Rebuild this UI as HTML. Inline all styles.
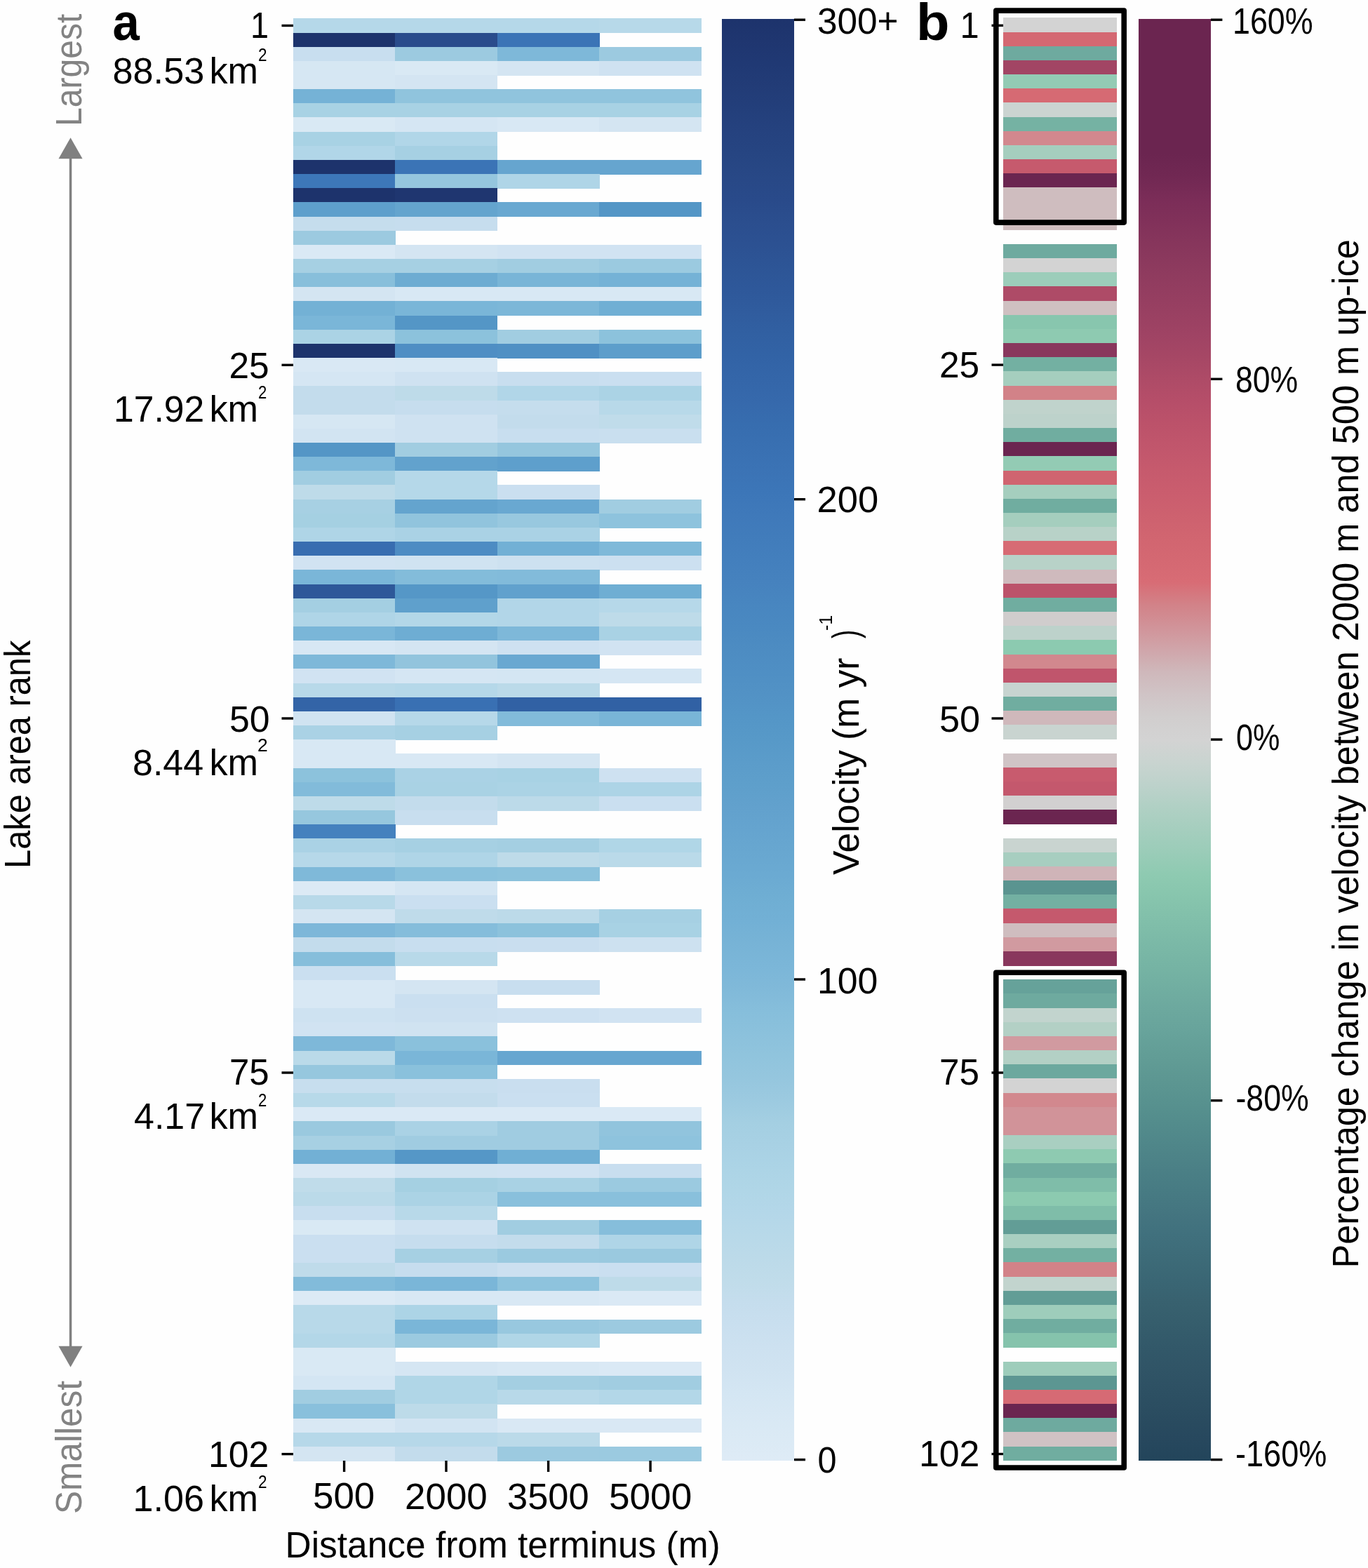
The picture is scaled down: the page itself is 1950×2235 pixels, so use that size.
<!DOCTYPE html><html><head><meta charset="utf-8"><title>Lake area rank heatmap</title><style>html,body{margin:0;padding:0;background:#fff}svg{display:block}text{font-family:"Liberation Sans",Arial,sans-serif}</style></head><body>
<svg width="1950" height="2235" viewBox="0 0 1950 2235">
<rect width="1950" height="2235" fill="#fefefe"/>
<defs><linearGradient id="ga" x1="0" y1="1" x2="0" y2="0"><stop offset="0.0000" stop-color="#deebf6"/><stop offset="0.0156" stop-color="#dbeaf5"/><stop offset="0.0312" stop-color="#d8e8f4"/><stop offset="0.0469" stop-color="#d4e6f3"/><stop offset="0.0625" stop-color="#d0e3f1"/><stop offset="0.0781" stop-color="#cde1f0"/><stop offset="0.0938" stop-color="#c9dfef"/><stop offset="0.1094" stop-color="#c5dded"/><stop offset="0.1250" stop-color="#c0dcea"/><stop offset="0.1406" stop-color="#bcdae9"/><stop offset="0.1562" stop-color="#b8d9e9"/><stop offset="0.1719" stop-color="#b4d7e9"/><stop offset="0.1875" stop-color="#b0d6e7"/><stop offset="0.2031" stop-color="#acd4e6"/><stop offset="0.2188" stop-color="#a8d1e4"/><stop offset="0.2344" stop-color="#a4cfe2"/><stop offset="0.2500" stop-color="#9ccae0"/><stop offset="0.2656" stop-color="#95c6de"/><stop offset="0.2812" stop-color="#90c4dd"/><stop offset="0.2969" stop-color="#8bc1dc"/><stop offset="0.3125" stop-color="#86bedb"/><stop offset="0.3281" stop-color="#80b9d9"/><stop offset="0.3438" stop-color="#7bb6d8"/><stop offset="0.3594" stop-color="#77b3d6"/><stop offset="0.3750" stop-color="#72b0d5"/><stop offset="0.3906" stop-color="#6faed3"/><stop offset="0.4062" stop-color="#6baad2"/><stop offset="0.4219" stop-color="#68a7d0"/><stop offset="0.4375" stop-color="#65a4cf"/><stop offset="0.4531" stop-color="#62a1cd"/><stop offset="0.4688" stop-color="#5e9fcb"/><stop offset="0.4844" stop-color="#5b9cca"/><stop offset="0.5000" stop-color="#5799c8"/><stop offset="0.5156" stop-color="#5496c7"/><stop offset="0.5312" stop-color="#5292c5"/><stop offset="0.5469" stop-color="#4f8fc4"/><stop offset="0.5625" stop-color="#4d8cc2"/><stop offset="0.5781" stop-color="#4a89c1"/><stop offset="0.5938" stop-color="#4886c0"/><stop offset="0.6094" stop-color="#4682be"/><stop offset="0.6250" stop-color="#437fbd"/><stop offset="0.6406" stop-color="#417cbb"/><stop offset="0.6562" stop-color="#3f79ba"/><stop offset="0.6719" stop-color="#3c76b8"/><stop offset="0.6875" stop-color="#3b73b5"/><stop offset="0.7031" stop-color="#3970b2"/><stop offset="0.7188" stop-color="#376daf"/><stop offset="0.7344" stop-color="#3669ac"/><stop offset="0.7500" stop-color="#3466a9"/><stop offset="0.7656" stop-color="#3263a6"/><stop offset="0.7812" stop-color="#3160a2"/><stop offset="0.7969" stop-color="#305c9e"/><stop offset="0.8125" stop-color="#2e589a"/><stop offset="0.8281" stop-color="#2d5596"/><stop offset="0.8438" stop-color="#2c5192"/><stop offset="0.8594" stop-color="#2b4e8e"/><stop offset="0.8750" stop-color="#294a8a"/><stop offset="0.8906" stop-color="#284886"/><stop offset="0.9062" stop-color="#264582"/><stop offset="0.9219" stop-color="#25427f"/><stop offset="0.9375" stop-color="#233f7b"/><stop offset="0.9531" stop-color="#223c77"/><stop offset="0.9688" stop-color="#203974"/><stop offset="0.9844" stop-color="#1f3670"/><stop offset="1.0000" stop-color="#1d336c"/></linearGradient><linearGradient id="gb" x1="0" y1="1" x2="0" y2="0"><stop offset="0.0000" stop-color="#23455b"/><stop offset="0.0156" stop-color="#27485e"/><stop offset="0.0312" stop-color="#2a4c60"/><stop offset="0.0469" stop-color="#2d5063"/><stop offset="0.0625" stop-color="#305466"/><stop offset="0.0781" stop-color="#325869"/><stop offset="0.0938" stop-color="#355d6c"/><stop offset="0.1094" stop-color="#38616f"/><stop offset="0.1250" stop-color="#3a6674"/><stop offset="0.1406" stop-color="#3d6b78"/><stop offset="0.1562" stop-color="#40707d"/><stop offset="0.1719" stop-color="#447580"/><stop offset="0.1875" stop-color="#477b83"/><stop offset="0.2031" stop-color="#4b8086"/><stop offset="0.2188" stop-color="#4f8689"/><stop offset="0.2344" stop-color="#538c8c"/><stop offset="0.2500" stop-color="#58928f"/><stop offset="0.2656" stop-color="#5d9792"/><stop offset="0.2812" stop-color="#629d96"/><stop offset="0.2969" stop-color="#67a39b"/><stop offset="0.3125" stop-color="#6ca89e"/><stop offset="0.3281" stop-color="#71aea1"/><stop offset="0.3438" stop-color="#76b4a4"/><stop offset="0.3594" stop-color="#7bb9a7"/><stop offset="0.3750" stop-color="#81bfaa"/><stop offset="0.3906" stop-color="#87c5ad"/><stop offset="0.4062" stop-color="#8ecab1"/><stop offset="0.4219" stop-color="#9accb8"/><stop offset="0.4375" stop-color="#a5cebe"/><stop offset="0.4531" stop-color="#b0d0c4"/><stop offset="0.4688" stop-color="#bdd2cb"/><stop offset="0.4844" stop-color="#c9d4d0"/><stop offset="0.5000" stop-color="#d3d3d3"/><stop offset="0.5156" stop-color="#d1cece"/><stop offset="0.5312" stop-color="#d0c4c6"/><stop offset="0.5469" stop-color="#cfb8bb"/><stop offset="0.5625" stop-color="#d0a5aa"/><stop offset="0.5781" stop-color="#d19399"/><stop offset="0.5938" stop-color="#d28288"/><stop offset="0.6094" stop-color="#d86c75"/><stop offset="0.6250" stop-color="#d46872"/><stop offset="0.6406" stop-color="#d16570"/><stop offset="0.6562" stop-color="#cd616f"/><stop offset="0.6719" stop-color="#ca5d6e"/><stop offset="0.6875" stop-color="#c65a6d"/><stop offset="0.7031" stop-color="#c1566c"/><stop offset="0.7188" stop-color="#bc526a"/><stop offset="0.7344" stop-color="#b64e69"/><stop offset="0.7500" stop-color="#ae4b67"/><stop offset="0.7656" stop-color="#a64765"/><stop offset="0.7812" stop-color="#9f4364"/><stop offset="0.7969" stop-color="#994062"/><stop offset="0.8125" stop-color="#933d60"/><stop offset="0.8281" stop-color="#8d3a5e"/><stop offset="0.8438" stop-color="#87365c"/><stop offset="0.8594" stop-color="#81315a"/><stop offset="0.8750" stop-color="#7b2d58"/><stop offset="0.8906" stop-color="#712853"/><stop offset="0.9062" stop-color="#6b2550"/><stop offset="0.9219" stop-color="#6b2550"/><stop offset="0.9375" stop-color="#6b2550"/><stop offset="0.9531" stop-color="#6b2550"/><stop offset="0.9688" stop-color="#6b2550"/><stop offset="0.9844" stop-color="#6b2550"/><stop offset="1.0000" stop-color="#6b2550"/></linearGradient></defs>
<g shape-rendering="crispEdges">
<rect x="417.7" y="26.35" width="146.1" height="20.75" fill="#b5d8e9"/>
<rect x="563.2" y="26.35" width="146.1" height="20.75" fill="#b5d8e9"/>
<rect x="708.8" y="26.35" width="146.1" height="20.75" fill="#b5d8e9"/>
<rect x="854.3" y="26.35" width="146.1" height="20.75" fill="#b7d9e9"/>
<rect x="417.7" y="46.50" width="146.1" height="20.75" fill="#1d336c"/>
<rect x="563.2" y="46.50" width="146.1" height="20.75" fill="#2a4c8c"/>
<rect x="708.8" y="46.50" width="146.1" height="20.75" fill="#3b74b6"/>
<rect x="417.7" y="66.66" width="146.1" height="20.75" fill="#c8deef"/>
<rect x="563.2" y="66.66" width="146.1" height="20.75" fill="#9ccae0"/>
<rect x="708.8" y="66.66" width="146.1" height="20.75" fill="#7eb8d9"/>
<rect x="854.3" y="66.66" width="146.1" height="20.75" fill="#9ccae0"/>
<rect x="417.7" y="86.81" width="146.1" height="20.75" fill="#d6e7f3"/>
<rect x="563.2" y="86.81" width="146.1" height="20.75" fill="#d9e9f4"/>
<rect x="708.8" y="86.81" width="146.1" height="20.75" fill="#d4e5f2"/>
<rect x="854.3" y="86.81" width="146.1" height="20.75" fill="#cfe2f1"/>
<rect x="417.7" y="106.97" width="146.1" height="20.75" fill="#d6e7f3"/>
<rect x="563.2" y="106.97" width="146.1" height="20.75" fill="#d4e5f2"/>
<rect x="417.7" y="127.12" width="146.1" height="20.75" fill="#75b2d6"/>
<rect x="563.2" y="127.12" width="146.1" height="20.75" fill="#90c4dd"/>
<rect x="708.8" y="127.12" width="146.1" height="20.75" fill="#90c4dd"/>
<rect x="854.3" y="127.12" width="146.1" height="20.75" fill="#90c4dd"/>
<rect x="417.7" y="147.28" width="146.1" height="20.75" fill="#a8d2e4"/>
<rect x="563.2" y="147.28" width="146.1" height="20.75" fill="#a8d2e4"/>
<rect x="708.8" y="147.28" width="146.1" height="20.75" fill="#a8d2e4"/>
<rect x="854.3" y="147.28" width="146.1" height="20.75" fill="#a8d2e4"/>
<rect x="417.7" y="167.43" width="146.1" height="20.75" fill="#d9e9f4"/>
<rect x="563.2" y="167.43" width="146.1" height="20.75" fill="#d5e6f3"/>
<rect x="708.8" y="167.43" width="146.1" height="20.75" fill="#d8e8f4"/>
<rect x="854.3" y="167.43" width="146.1" height="20.75" fill="#d4e5f2"/>
<rect x="417.7" y="187.59" width="146.1" height="20.75" fill="#a8d2e4"/>
<rect x="563.2" y="187.59" width="146.1" height="20.75" fill="#b1d6e8"/>
<rect x="417.7" y="207.74" width="146.1" height="20.75" fill="#b1d6e8"/>
<rect x="563.2" y="207.74" width="146.1" height="20.75" fill="#a6d0e3"/>
<rect x="417.7" y="227.89" width="146.1" height="20.75" fill="#1d336c"/>
<rect x="563.2" y="227.89" width="146.1" height="20.75" fill="#3b74b6"/>
<rect x="708.8" y="227.89" width="146.1" height="20.75" fill="#66a5cf"/>
<rect x="854.3" y="227.89" width="146.1" height="20.75" fill="#66a5cf"/>
<rect x="417.7" y="248.05" width="146.1" height="20.75" fill="#3d77b9"/>
<rect x="563.2" y="248.05" width="146.1" height="20.75" fill="#95c6de"/>
<rect x="708.8" y="248.05" width="146.1" height="20.75" fill="#afd5e7"/>
<rect x="417.7" y="268.20" width="146.1" height="20.75" fill="#1d336c"/>
<rect x="563.2" y="268.20" width="146.1" height="20.75" fill="#1f3670"/>
<rect x="417.7" y="288.36" width="146.1" height="20.75" fill="#5e9fcc"/>
<rect x="563.2" y="288.36" width="146.1" height="20.75" fill="#64a4ce"/>
<rect x="708.8" y="288.36" width="146.1" height="20.75" fill="#69a8d1"/>
<rect x="854.3" y="288.36" width="146.1" height="20.75" fill="#5496c6"/>
<rect x="417.7" y="308.51" width="146.1" height="20.75" fill="#c5dded"/>
<rect x="563.2" y="308.51" width="146.1" height="20.75" fill="#c6ddee"/>
<rect x="417.7" y="328.67" width="146.1" height="20.75" fill="#9ccae0"/>
<rect x="417.7" y="348.82" width="146.1" height="20.75" fill="#dae9f5"/>
<rect x="563.2" y="348.82" width="146.1" height="20.75" fill="#d4e5f2"/>
<rect x="708.8" y="348.82" width="146.1" height="20.75" fill="#d1e3f2"/>
<rect x="854.3" y="348.82" width="146.1" height="20.75" fill="#d1e3f2"/>
<rect x="417.7" y="368.98" width="146.1" height="20.75" fill="#a6d0e3"/>
<rect x="563.2" y="368.98" width="146.1" height="20.75" fill="#a6d0e3"/>
<rect x="708.8" y="368.98" width="146.1" height="20.75" fill="#a1cde1"/>
<rect x="854.3" y="368.98" width="146.1" height="20.75" fill="#9bcae0"/>
<rect x="417.7" y="389.13" width="146.1" height="20.75" fill="#88bfdb"/>
<rect x="563.2" y="389.13" width="146.1" height="20.75" fill="#6dacd2"/>
<rect x="708.8" y="389.13" width="146.1" height="20.75" fill="#79b5d7"/>
<rect x="854.3" y="389.13" width="146.1" height="20.75" fill="#75b2d6"/>
<rect x="417.7" y="409.28" width="146.1" height="20.75" fill="#d4e5f2"/>
<rect x="563.2" y="409.28" width="146.1" height="20.75" fill="#d8e8f4"/>
<rect x="708.8" y="409.28" width="146.1" height="20.75" fill="#d8e8f4"/>
<rect x="854.3" y="409.28" width="146.1" height="20.75" fill="#d8e8f4"/>
<rect x="417.7" y="429.44" width="146.1" height="20.75" fill="#73b1d5"/>
<rect x="563.2" y="429.44" width="146.1" height="20.75" fill="#7ab6d8"/>
<rect x="708.8" y="429.44" width="146.1" height="20.75" fill="#7cb7d8"/>
<rect x="854.3" y="429.44" width="146.1" height="20.75" fill="#70afd4"/>
<rect x="417.7" y="449.59" width="146.1" height="20.75" fill="#7ab6d8"/>
<rect x="563.2" y="449.59" width="146.1" height="20.75" fill="#5496c6"/>
<rect x="417.7" y="469.75" width="146.1" height="20.75" fill="#abd3e5"/>
<rect x="563.2" y="469.75" width="146.1" height="20.75" fill="#8cc2dc"/>
<rect x="708.8" y="469.75" width="146.1" height="20.75" fill="#a1cde1"/>
<rect x="854.3" y="469.75" width="146.1" height="20.75" fill="#8cc2dc"/>
<rect x="417.7" y="489.90" width="146.1" height="20.75" fill="#1d336c"/>
<rect x="563.2" y="489.90" width="146.1" height="20.75" fill="#4f8ec4"/>
<rect x="708.8" y="489.90" width="146.1" height="20.75" fill="#5090c4"/>
<rect x="854.3" y="489.90" width="146.1" height="20.75" fill="#5d9ecb"/>
<rect x="417.7" y="510.06" width="146.1" height="20.75" fill="#d9e8f4"/>
<rect x="563.2" y="510.06" width="146.1" height="20.75" fill="#d8e8f4"/>
<rect x="417.7" y="530.21" width="146.1" height="20.75" fill="#d5e6f3"/>
<rect x="563.2" y="530.21" width="146.1" height="20.75" fill="#cfe2f1"/>
<rect x="708.8" y="530.21" width="146.1" height="20.75" fill="#c8deef"/>
<rect x="854.3" y="530.21" width="146.1" height="20.75" fill="#cadff0"/>
<rect x="417.7" y="550.36" width="146.1" height="20.75" fill="#c3dcec"/>
<rect x="563.2" y="550.36" width="146.1" height="20.75" fill="#bedbe9"/>
<rect x="708.8" y="550.36" width="146.1" height="20.75" fill="#b1d6e8"/>
<rect x="854.3" y="550.36" width="146.1" height="20.75" fill="#abd3e5"/>
<rect x="417.7" y="570.52" width="146.1" height="20.75" fill="#c3dcec"/>
<rect x="563.2" y="570.52" width="146.1" height="20.75" fill="#c6ddee"/>
<rect x="708.8" y="570.52" width="146.1" height="20.75" fill="#c5dded"/>
<rect x="854.3" y="570.52" width="146.1" height="20.75" fill="#b8d9e9"/>
<rect x="417.7" y="590.67" width="146.1" height="20.75" fill="#d6e7f3"/>
<rect x="563.2" y="590.67" width="146.1" height="20.75" fill="#cfe2f1"/>
<rect x="708.8" y="590.67" width="146.1" height="20.75" fill="#c3dcec"/>
<rect x="854.3" y="590.67" width="146.1" height="20.75" fill="#c0dcea"/>
<rect x="417.7" y="610.83" width="146.1" height="20.75" fill="#d2e4f2"/>
<rect x="563.2" y="610.83" width="146.1" height="20.75" fill="#cfe2f1"/>
<rect x="708.8" y="610.83" width="146.1" height="20.75" fill="#c8deef"/>
<rect x="854.3" y="610.83" width="146.1" height="20.75" fill="#c9dfef"/>
<rect x="417.7" y="630.98" width="146.1" height="20.75" fill="#5496c6"/>
<rect x="563.2" y="630.98" width="146.1" height="20.75" fill="#a1cde1"/>
<rect x="708.8" y="630.98" width="146.1" height="20.75" fill="#95c6de"/>
<rect x="417.7" y="651.14" width="146.1" height="20.75" fill="#7eb8d9"/>
<rect x="563.2" y="651.14" width="146.1" height="20.75" fill="#62a2cd"/>
<rect x="708.8" y="651.14" width="146.1" height="20.75" fill="#5e9fcc"/>
<rect x="417.7" y="671.29" width="146.1" height="20.75" fill="#a1cde1"/>
<rect x="563.2" y="671.29" width="146.1" height="20.75" fill="#b5d8e9"/>
<rect x="417.7" y="691.45" width="146.1" height="20.75" fill="#bedbe9"/>
<rect x="563.2" y="691.45" width="146.1" height="20.75" fill="#b5d8e9"/>
<rect x="708.8" y="691.45" width="146.1" height="20.75" fill="#cadff0"/>
<rect x="417.7" y="711.60" width="146.1" height="20.75" fill="#a7d0e3"/>
<rect x="563.2" y="711.60" width="146.1" height="20.75" fill="#64a4ce"/>
<rect x="708.8" y="711.60" width="146.1" height="20.75" fill="#69a8d1"/>
<rect x="854.3" y="711.60" width="146.1" height="20.75" fill="#a1cde1"/>
<rect x="417.7" y="731.75" width="146.1" height="20.75" fill="#a5d0e2"/>
<rect x="563.2" y="731.75" width="146.1" height="20.75" fill="#91c4dd"/>
<rect x="708.8" y="731.75" width="146.1" height="20.75" fill="#98c8df"/>
<rect x="854.3" y="731.75" width="146.1" height="20.75" fill="#8ec3dd"/>
<rect x="417.7" y="751.91" width="146.1" height="20.75" fill="#afd5e7"/>
<rect x="563.2" y="751.91" width="146.1" height="20.75" fill="#aad2e5"/>
<rect x="708.8" y="751.91" width="146.1" height="20.75" fill="#aad2e5"/>
<rect x="417.7" y="772.06" width="146.1" height="20.75" fill="#386db0"/>
<rect x="563.2" y="772.06" width="146.1" height="20.75" fill="#4d8cc3"/>
<rect x="708.8" y="772.06" width="146.1" height="20.75" fill="#72b0d5"/>
<rect x="854.3" y="772.06" width="146.1" height="20.75" fill="#7fb9d9"/>
<rect x="417.7" y="792.22" width="146.1" height="20.75" fill="#d1e3f2"/>
<rect x="563.2" y="792.22" width="146.1" height="20.75" fill="#d0e3f1"/>
<rect x="708.8" y="792.22" width="146.1" height="20.75" fill="#cde1f0"/>
<rect x="854.3" y="792.22" width="146.1" height="20.75" fill="#cce0f0"/>
<rect x="417.7" y="812.37" width="146.1" height="20.75" fill="#7ab6d8"/>
<rect x="563.2" y="812.37" width="146.1" height="20.75" fill="#83bcda"/>
<rect x="708.8" y="812.37" width="146.1" height="20.75" fill="#82bbda"/>
<rect x="417.7" y="832.53" width="146.1" height="20.75" fill="#2e5899"/>
<rect x="563.2" y="832.53" width="146.1" height="20.75" fill="#5597c7"/>
<rect x="708.8" y="832.53" width="146.1" height="20.75" fill="#61a1cd"/>
<rect x="854.3" y="832.53" width="146.1" height="20.75" fill="#6faed3"/>
<rect x="417.7" y="852.68" width="146.1" height="20.75" fill="#a4cfe2"/>
<rect x="563.2" y="852.68" width="146.1" height="20.75" fill="#5fa0cc"/>
<rect x="708.8" y="852.68" width="146.1" height="20.75" fill="#b2d6e8"/>
<rect x="854.3" y="852.68" width="146.1" height="20.75" fill="#b6d8e9"/>
<rect x="417.7" y="872.84" width="146.1" height="20.75" fill="#afd5e7"/>
<rect x="563.2" y="872.84" width="146.1" height="20.75" fill="#b3d7e8"/>
<rect x="708.8" y="872.84" width="146.1" height="20.75" fill="#b2d6e8"/>
<rect x="854.3" y="872.84" width="146.1" height="20.75" fill="#bedbe9"/>
<rect x="417.7" y="892.99" width="146.1" height="20.75" fill="#7ab6d8"/>
<rect x="563.2" y="892.99" width="146.1" height="20.75" fill="#6eadd3"/>
<rect x="708.8" y="892.99" width="146.1" height="20.75" fill="#7eb8d9"/>
<rect x="854.3" y="892.99" width="146.1" height="20.75" fill="#a9d2e4"/>
<rect x="417.7" y="913.14" width="146.1" height="20.75" fill="#d7e7f4"/>
<rect x="563.2" y="913.14" width="146.1" height="20.75" fill="#d4e5f2"/>
<rect x="708.8" y="913.14" width="146.1" height="20.75" fill="#cee1f1"/>
<rect x="854.3" y="913.14" width="146.1" height="20.75" fill="#d1e3f2"/>
<rect x="417.7" y="933.30" width="146.1" height="20.75" fill="#7eb8d9"/>
<rect x="563.2" y="933.30" width="146.1" height="20.75" fill="#92c4dd"/>
<rect x="708.8" y="933.30" width="146.1" height="20.75" fill="#69a8d1"/>
<rect x="417.7" y="953.45" width="146.1" height="20.75" fill="#d1e3f2"/>
<rect x="563.2" y="953.45" width="146.1" height="20.75" fill="#d5e6f3"/>
<rect x="708.8" y="953.45" width="146.1" height="20.75" fill="#d4e6f3"/>
<rect x="854.3" y="953.45" width="146.1" height="20.75" fill="#d5e6f3"/>
<rect x="417.7" y="973.61" width="146.1" height="20.75" fill="#b8d9e9"/>
<rect x="563.2" y="973.61" width="146.1" height="20.75" fill="#b5d8e9"/>
<rect x="708.8" y="973.61" width="146.1" height="20.75" fill="#bbdae9"/>
<rect x="417.7" y="993.76" width="146.1" height="20.75" fill="#3364a7"/>
<rect x="563.2" y="993.76" width="146.1" height="20.75" fill="#3970b3"/>
<rect x="708.8" y="993.76" width="146.1" height="20.75" fill="#3161a4"/>
<rect x="854.3" y="993.76" width="146.1" height="20.75" fill="#3161a4"/>
<rect x="417.7" y="1013.92" width="146.1" height="20.75" fill="#d0e3f1"/>
<rect x="563.2" y="1013.92" width="146.1" height="20.75" fill="#b6d8e9"/>
<rect x="708.8" y="1013.92" width="146.1" height="20.75" fill="#82bbda"/>
<rect x="854.3" y="1013.92" width="146.1" height="20.75" fill="#79b5d7"/>
<rect x="417.7" y="1034.07" width="146.1" height="20.75" fill="#aad2e5"/>
<rect x="563.2" y="1034.07" width="146.1" height="20.75" fill="#a6d0e3"/>
<rect x="417.7" y="1054.22" width="146.1" height="20.75" fill="#d8e8f4"/>
<rect x="417.7" y="1074.38" width="146.1" height="20.75" fill="#d8e8f4"/>
<rect x="563.2" y="1074.38" width="146.1" height="20.75" fill="#d8e8f4"/>
<rect x="708.8" y="1074.38" width="146.1" height="20.75" fill="#d4e5f2"/>
<rect x="417.7" y="1094.53" width="146.1" height="20.75" fill="#8cc2dc"/>
<rect x="563.2" y="1094.53" width="146.1" height="20.75" fill="#aad2e5"/>
<rect x="708.8" y="1094.53" width="146.1" height="20.75" fill="#a8d2e4"/>
<rect x="854.3" y="1094.53" width="146.1" height="20.75" fill="#cee1f1"/>
<rect x="417.7" y="1114.69" width="146.1" height="20.75" fill="#82bbda"/>
<rect x="563.2" y="1114.69" width="146.1" height="20.75" fill="#a9d2e4"/>
<rect x="708.8" y="1114.69" width="146.1" height="20.75" fill="#abd3e5"/>
<rect x="854.3" y="1114.69" width="146.1" height="20.75" fill="#add4e6"/>
<rect x="417.7" y="1134.84" width="146.1" height="20.75" fill="#bedbe9"/>
<rect x="563.2" y="1134.84" width="146.1" height="20.75" fill="#c3dcec"/>
<rect x="708.8" y="1134.84" width="146.1" height="20.75" fill="#bcdae9"/>
<rect x="854.3" y="1134.84" width="146.1" height="20.75" fill="#cadff0"/>
<rect x="417.7" y="1155.00" width="146.1" height="20.75" fill="#96c7de"/>
<rect x="563.2" y="1155.00" width="146.1" height="20.75" fill="#c8deef"/>
<rect x="417.7" y="1175.15" width="146.1" height="20.75" fill="#4481be"/>
<rect x="417.7" y="1195.31" width="146.1" height="20.75" fill="#aad2e5"/>
<rect x="563.2" y="1195.31" width="146.1" height="20.75" fill="#a6d0e3"/>
<rect x="708.8" y="1195.31" width="146.1" height="20.75" fill="#a4cfe2"/>
<rect x="854.3" y="1195.31" width="146.1" height="20.75" fill="#b0d6e7"/>
<rect x="417.7" y="1215.46" width="146.1" height="20.75" fill="#b6d8e9"/>
<rect x="563.2" y="1215.46" width="146.1" height="20.75" fill="#afd5e7"/>
<rect x="708.8" y="1215.46" width="146.1" height="20.75" fill="#bedbe9"/>
<rect x="854.3" y="1215.46" width="146.1" height="20.75" fill="#badae9"/>
<rect x="417.7" y="1235.61" width="146.1" height="20.75" fill="#7fb9d9"/>
<rect x="563.2" y="1235.61" width="146.1" height="20.75" fill="#8ac1dc"/>
<rect x="708.8" y="1235.61" width="146.1" height="20.75" fill="#8cc2dc"/>
<rect x="417.7" y="1255.77" width="146.1" height="20.75" fill="#dceaf5"/>
<rect x="563.2" y="1255.77" width="146.1" height="20.75" fill="#d5e6f3"/>
<rect x="417.7" y="1275.92" width="146.1" height="20.75" fill="#b8d9e9"/>
<rect x="563.2" y="1275.92" width="146.1" height="20.75" fill="#cadff0"/>
<rect x="417.7" y="1296.08" width="146.1" height="20.75" fill="#d4e5f2"/>
<rect x="563.2" y="1296.08" width="146.1" height="20.75" fill="#bfdbea"/>
<rect x="708.8" y="1296.08" width="146.1" height="20.75" fill="#bcdae9"/>
<rect x="854.3" y="1296.08" width="146.1" height="20.75" fill="#a6d0e3"/>
<rect x="417.7" y="1316.23" width="146.1" height="20.75" fill="#7db7d9"/>
<rect x="563.2" y="1316.23" width="146.1" height="20.75" fill="#85bddb"/>
<rect x="708.8" y="1316.23" width="146.1" height="20.75" fill="#8cc2dc"/>
<rect x="854.3" y="1316.23" width="146.1" height="20.75" fill="#a8d2e4"/>
<rect x="417.7" y="1336.39" width="146.1" height="20.75" fill="#c3dcec"/>
<rect x="563.2" y="1336.39" width="146.1" height="20.75" fill="#c8deef"/>
<rect x="708.8" y="1336.39" width="146.1" height="20.75" fill="#c9deef"/>
<rect x="854.3" y="1336.39" width="146.1" height="20.75" fill="#cde1f0"/>
<rect x="417.7" y="1356.54" width="146.1" height="20.75" fill="#86bedb"/>
<rect x="563.2" y="1356.54" width="146.1" height="20.75" fill="#b8d9e9"/>
<rect x="417.7" y="1376.70" width="146.1" height="20.75" fill="#cadff0"/>
<rect x="417.7" y="1396.85" width="146.1" height="20.75" fill="#d8e8f4"/>
<rect x="563.2" y="1396.85" width="146.1" height="20.75" fill="#d4e5f2"/>
<rect x="708.8" y="1396.85" width="146.1" height="20.75" fill="#c8deef"/>
<rect x="417.7" y="1417.00" width="146.1" height="20.75" fill="#d8e8f4"/>
<rect x="563.2" y="1417.00" width="146.1" height="20.75" fill="#cadff0"/>
<rect x="417.7" y="1437.16" width="146.1" height="20.75" fill="#cee2f1"/>
<rect x="563.2" y="1437.16" width="146.1" height="20.75" fill="#cce0f0"/>
<rect x="708.8" y="1437.16" width="146.1" height="20.75" fill="#cee1f1"/>
<rect x="854.3" y="1437.16" width="146.1" height="20.75" fill="#d1e3f2"/>
<rect x="417.7" y="1457.31" width="146.1" height="20.75" fill="#d1e3f2"/>
<rect x="563.2" y="1457.31" width="146.1" height="20.75" fill="#d0e3f1"/>
<rect x="417.7" y="1477.47" width="146.1" height="20.75" fill="#7eb8d9"/>
<rect x="563.2" y="1477.47" width="146.1" height="20.75" fill="#8ac1dc"/>
<rect x="417.7" y="1497.62" width="146.1" height="20.75" fill="#badae9"/>
<rect x="563.2" y="1497.62" width="146.1" height="20.75" fill="#7ab6d8"/>
<rect x="708.8" y="1497.62" width="146.1" height="20.75" fill="#67a6d0"/>
<rect x="854.3" y="1497.62" width="146.1" height="20.75" fill="#67a6d0"/>
<rect x="417.7" y="1517.78" width="146.1" height="20.75" fill="#96c7de"/>
<rect x="563.2" y="1517.78" width="146.1" height="20.75" fill="#8ac1dc"/>
<rect x="417.7" y="1537.93" width="146.1" height="20.75" fill="#c7deee"/>
<rect x="563.2" y="1537.93" width="146.1" height="20.75" fill="#c7deee"/>
<rect x="708.8" y="1537.93" width="146.1" height="20.75" fill="#c9deef"/>
<rect x="417.7" y="1558.09" width="146.1" height="20.75" fill="#b7d9e9"/>
<rect x="563.2" y="1558.09" width="146.1" height="20.75" fill="#c3dcec"/>
<rect x="708.8" y="1558.09" width="146.1" height="20.75" fill="#cadff0"/>
<rect x="417.7" y="1578.24" width="146.1" height="20.75" fill="#dae9f5"/>
<rect x="563.2" y="1578.24" width="146.1" height="20.75" fill="#dae9f5"/>
<rect x="708.8" y="1578.24" width="146.1" height="20.75" fill="#dae9f5"/>
<rect x="854.3" y="1578.24" width="146.1" height="20.75" fill="#dae9f5"/>
<rect x="417.7" y="1598.39" width="146.1" height="20.75" fill="#9ac9df"/>
<rect x="563.2" y="1598.39" width="146.1" height="20.75" fill="#aad2e5"/>
<rect x="708.8" y="1598.39" width="146.1" height="20.75" fill="#a0cce1"/>
<rect x="854.3" y="1598.39" width="146.1" height="20.75" fill="#91c4dd"/>
<rect x="417.7" y="1618.55" width="146.1" height="20.75" fill="#a7d0e3"/>
<rect x="563.2" y="1618.55" width="146.1" height="20.75" fill="#a0cce1"/>
<rect x="708.8" y="1618.55" width="146.1" height="20.75" fill="#a0cce1"/>
<rect x="854.3" y="1618.55" width="146.1" height="20.75" fill="#8ec3dd"/>
<rect x="417.7" y="1638.70" width="146.1" height="20.75" fill="#72b0d5"/>
<rect x="563.2" y="1638.70" width="146.1" height="20.75" fill="#5597c7"/>
<rect x="708.8" y="1638.70" width="146.1" height="20.75" fill="#70afd4"/>
<rect x="417.7" y="1658.86" width="146.1" height="20.75" fill="#d9e8f4"/>
<rect x="563.2" y="1658.86" width="146.1" height="20.75" fill="#d0e3f1"/>
<rect x="708.8" y="1658.86" width="146.1" height="20.75" fill="#d1e3f2"/>
<rect x="854.3" y="1658.86" width="146.1" height="20.75" fill="#c8deef"/>
<rect x="417.7" y="1679.01" width="146.1" height="20.75" fill="#c0dcea"/>
<rect x="563.2" y="1679.01" width="146.1" height="20.75" fill="#a5d0e2"/>
<rect x="708.8" y="1679.01" width="146.1" height="20.75" fill="#a9d2e4"/>
<rect x="854.3" y="1679.01" width="146.1" height="20.75" fill="#9bcae0"/>
<rect x="417.7" y="1699.17" width="146.1" height="20.75" fill="#bbdae9"/>
<rect x="563.2" y="1699.17" width="146.1" height="20.75" fill="#abd3e5"/>
<rect x="708.8" y="1699.17" width="146.1" height="20.75" fill="#89c0dc"/>
<rect x="854.3" y="1699.17" width="146.1" height="20.75" fill="#89c0dc"/>
<rect x="417.7" y="1719.32" width="146.1" height="20.75" fill="#c8deef"/>
<rect x="563.2" y="1719.32" width="146.1" height="20.75" fill="#b8d9e9"/>
<rect x="417.7" y="1739.48" width="146.1" height="20.75" fill="#d9e9f4"/>
<rect x="563.2" y="1739.48" width="146.1" height="20.75" fill="#cfe2f1"/>
<rect x="708.8" y="1739.48" width="146.1" height="20.75" fill="#a1cde1"/>
<rect x="854.3" y="1739.48" width="146.1" height="20.75" fill="#86bedb"/>
<rect x="417.7" y="1759.63" width="146.1" height="20.75" fill="#cadff0"/>
<rect x="563.2" y="1759.63" width="146.1" height="20.75" fill="#c6ddee"/>
<rect x="708.8" y="1759.63" width="146.1" height="20.75" fill="#c3dcec"/>
<rect x="854.3" y="1759.63" width="146.1" height="20.75" fill="#afd5e7"/>
<rect x="417.7" y="1779.78" width="146.1" height="20.75" fill="#cadff0"/>
<rect x="563.2" y="1779.78" width="146.1" height="20.75" fill="#a6d0e3"/>
<rect x="708.8" y="1779.78" width="146.1" height="20.75" fill="#9bcae0"/>
<rect x="854.3" y="1779.78" width="146.1" height="20.75" fill="#9ac9df"/>
<rect x="417.7" y="1799.94" width="146.1" height="20.75" fill="#bfdbea"/>
<rect x="563.2" y="1799.94" width="146.1" height="20.75" fill="#c6ddee"/>
<rect x="708.8" y="1799.94" width="146.1" height="20.75" fill="#cce0f0"/>
<rect x="854.3" y="1799.94" width="146.1" height="20.75" fill="#cadff0"/>
<rect x="417.7" y="1820.09" width="146.1" height="20.75" fill="#82bbda"/>
<rect x="563.2" y="1820.09" width="146.1" height="20.75" fill="#7ab6d8"/>
<rect x="708.8" y="1820.09" width="146.1" height="20.75" fill="#8ec3dd"/>
<rect x="854.3" y="1820.09" width="146.1" height="20.75" fill="#bedbe9"/>
<rect x="417.7" y="1840.25" width="146.1" height="20.75" fill="#dceaf5"/>
<rect x="563.2" y="1840.25" width="146.1" height="20.75" fill="#d8e8f4"/>
<rect x="708.8" y="1840.25" width="146.1" height="20.75" fill="#d8e8f4"/>
<rect x="854.3" y="1840.25" width="146.1" height="20.75" fill="#dae9f5"/>
<rect x="417.7" y="1860.40" width="146.1" height="20.75" fill="#b8d9e9"/>
<rect x="563.2" y="1860.40" width="146.1" height="20.75" fill="#acd4e6"/>
<rect x="417.7" y="1880.56" width="146.1" height="20.75" fill="#b8d9e9"/>
<rect x="563.2" y="1880.56" width="146.1" height="20.75" fill="#7ab6d8"/>
<rect x="708.8" y="1880.56" width="146.1" height="20.75" fill="#98c8df"/>
<rect x="854.3" y="1880.56" width="146.1" height="20.75" fill="#9ccae0"/>
<rect x="417.7" y="1900.71" width="146.1" height="20.75" fill="#b3d7e8"/>
<rect x="563.2" y="1900.71" width="146.1" height="20.75" fill="#9bcae0"/>
<rect x="708.8" y="1900.71" width="146.1" height="20.75" fill="#b0d6e7"/>
<rect x="417.7" y="1920.86" width="146.1" height="20.75" fill="#d9e9f4"/>
<rect x="417.7" y="1941.02" width="146.1" height="20.75" fill="#d9e9f4"/>
<rect x="563.2" y="1941.02" width="146.1" height="20.75" fill="#d5e6f3"/>
<rect x="708.8" y="1941.02" width="146.1" height="20.75" fill="#d8e8f4"/>
<rect x="854.3" y="1941.02" width="146.1" height="20.75" fill="#dae9f5"/>
<rect x="417.7" y="1961.17" width="146.1" height="20.75" fill="#d4e6f3"/>
<rect x="563.2" y="1961.17" width="146.1" height="20.75" fill="#b0d6e7"/>
<rect x="708.8" y="1961.17" width="146.1" height="20.75" fill="#a4cfe2"/>
<rect x="854.3" y="1961.17" width="146.1" height="20.75" fill="#a1cde1"/>
<rect x="417.7" y="1981.33" width="146.1" height="20.75" fill="#a1cde1"/>
<rect x="563.2" y="1981.33" width="146.1" height="20.75" fill="#b0d6e7"/>
<rect x="708.8" y="1981.33" width="146.1" height="20.75" fill="#b8d9e9"/>
<rect x="854.3" y="1981.33" width="146.1" height="20.75" fill="#b3d7e8"/>
<rect x="417.7" y="2001.48" width="146.1" height="20.75" fill="#89c0dc"/>
<rect x="563.2" y="2001.48" width="146.1" height="20.75" fill="#bddbe9"/>
<rect x="417.7" y="2021.64" width="146.1" height="20.75" fill="#d9e8f4"/>
<rect x="563.2" y="2021.64" width="146.1" height="20.75" fill="#d2e4f2"/>
<rect x="708.8" y="2021.64" width="146.1" height="20.75" fill="#d9e8f4"/>
<rect x="854.3" y="2021.64" width="146.1" height="20.75" fill="#d9e8f4"/>
<rect x="417.7" y="2041.79" width="146.1" height="20.75" fill="#b6d8e9"/>
<rect x="563.2" y="2041.79" width="146.1" height="20.75" fill="#b6d8e9"/>
<rect x="708.8" y="2041.79" width="146.1" height="20.75" fill="#bbdae9"/>
<rect x="417.7" y="2061.95" width="146.1" height="20.75" fill="#d4e5f2"/>
<rect x="563.2" y="2061.95" width="146.1" height="20.75" fill="#c3dcec"/>
<rect x="708.8" y="2061.95" width="146.1" height="20.75" fill="#9ccae0"/>
<rect x="854.3" y="2061.95" width="146.1" height="20.75" fill="#9bcae0"/>
</g>
<g shape-rendering="crispEdges">
<rect x="1430.0" y="25.40" width="162.0" height="20.76" fill="#d3d3d3"/>
<rect x="1430.0" y="45.56" width="162.0" height="20.76" fill="#d46872"/>
<rect x="1430.0" y="65.72" width="162.0" height="20.76" fill="#6eaa9f"/>
<rect x="1430.0" y="85.88" width="162.0" height="20.76" fill="#a24564"/>
<rect x="1430.0" y="106.04" width="162.0" height="20.76" fill="#93cbb4"/>
<rect x="1430.0" y="126.20" width="162.0" height="20.76" fill="#d66a73"/>
<rect x="1430.0" y="146.36" width="162.0" height="20.76" fill="#cbd4d1"/>
<rect x="1430.0" y="166.52" width="162.0" height="20.76" fill="#75b2a3"/>
<rect x="1430.0" y="186.68" width="162.0" height="20.76" fill="#d2888e"/>
<rect x="1430.0" y="206.84" width="162.0" height="20.76" fill="#a5cebe"/>
<rect x="1430.0" y="227.00" width="162.0" height="20.76" fill="#c65a6d"/>
<rect x="1430.0" y="247.16" width="162.0" height="20.76" fill="#6b2550"/>
<rect x="1430.0" y="267.32" width="162.0" height="20.76" fill="#cfbdbf"/>
<rect x="1430.0" y="287.48" width="162.0" height="20.76" fill="#cfbdbf"/>
<rect x="1430.0" y="307.64" width="162.0" height="20.76" fill="#cfbdbf"/>
<rect x="1430.0" y="347.96" width="162.0" height="20.76" fill="#6eaa9f"/>
<rect x="1430.0" y="368.12" width="162.0" height="20.76" fill="#d3d3d3"/>
<rect x="1430.0" y="388.28" width="162.0" height="20.76" fill="#9ccdba"/>
<rect x="1430.0" y="408.44" width="162.0" height="20.76" fill="#ae4b67"/>
<rect x="1430.0" y="428.60" width="162.0" height="20.76" fill="#cfc0c1"/>
<rect x="1430.0" y="448.76" width="162.0" height="20.76" fill="#88c6ae"/>
<rect x="1430.0" y="468.92" width="162.0" height="20.76" fill="#8ecab1"/>
<rect x="1430.0" y="489.08" width="162.0" height="20.76" fill="#89375d"/>
<rect x="1430.0" y="509.24" width="162.0" height="20.76" fill="#73b0a2"/>
<rect x="1430.0" y="529.40" width="162.0" height="20.76" fill="#a5cebe"/>
<rect x="1430.0" y="549.55" width="162.0" height="20.76" fill="#d28288"/>
<rect x="1430.0" y="569.71" width="162.0" height="20.76" fill="#c0d3cc"/>
<rect x="1430.0" y="589.87" width="162.0" height="20.76" fill="#bdd2cb"/>
<rect x="1430.0" y="610.03" width="162.0" height="20.76" fill="#70ada0"/>
<rect x="1430.0" y="630.19" width="162.0" height="20.76" fill="#6b2550"/>
<rect x="1430.0" y="650.35" width="162.0" height="20.76" fill="#93cbb4"/>
<rect x="1430.0" y="670.51" width="162.0" height="20.76" fill="#d06470"/>
<rect x="1430.0" y="690.67" width="162.0" height="20.76" fill="#a5cebe"/>
<rect x="1430.0" y="710.83" width="162.0" height="20.76" fill="#70ada0"/>
<rect x="1430.0" y="730.99" width="162.0" height="20.76" fill="#a5cebe"/>
<rect x="1430.0" y="751.15" width="162.0" height="20.76" fill="#b8d2c8"/>
<rect x="1430.0" y="771.31" width="162.0" height="20.76" fill="#d76b74"/>
<rect x="1430.0" y="791.47" width="162.0" height="20.76" fill="#b8d2c8"/>
<rect x="1430.0" y="811.63" width="162.0" height="20.76" fill="#cfbabd"/>
<rect x="1430.0" y="831.79" width="162.0" height="20.76" fill="#bc526a"/>
<rect x="1430.0" y="851.95" width="162.0" height="20.76" fill="#70ada0"/>
<rect x="1430.0" y="872.11" width="162.0" height="20.76" fill="#d0cdcd"/>
<rect x="1430.0" y="892.27" width="162.0" height="20.76" fill="#bdd2cb"/>
<rect x="1430.0" y="912.43" width="162.0" height="20.76" fill="#8ccab0"/>
<rect x="1430.0" y="932.59" width="162.0" height="20.76" fill="#d2888e"/>
<rect x="1430.0" y="952.75" width="162.0" height="20.76" fill="#c0556c"/>
<rect x="1430.0" y="972.91" width="162.0" height="20.76" fill="#c7d4d0"/>
<rect x="1430.0" y="993.07" width="162.0" height="20.76" fill="#70ada0"/>
<rect x="1430.0" y="1013.23" width="162.0" height="20.76" fill="#cfb8bb"/>
<rect x="1430.0" y="1033.39" width="162.0" height="20.76" fill="#c9d4d0"/>
<rect x="1430.0" y="1073.71" width="162.0" height="20.76" fill="#d0c4c6"/>
<rect x="1430.0" y="1093.87" width="162.0" height="20.76" fill="#c85b6e"/>
<rect x="1430.0" y="1114.03" width="162.0" height="20.76" fill="#c4586d"/>
<rect x="1430.0" y="1134.19" width="162.0" height="20.76" fill="#d2d0d0"/>
<rect x="1430.0" y="1154.35" width="162.0" height="20.76" fill="#6b2550"/>
<rect x="1430.0" y="1194.67" width="162.0" height="20.76" fill="#c9d4d0"/>
<rect x="1430.0" y="1214.83" width="162.0" height="20.76" fill="#a7cec0"/>
<rect x="1430.0" y="1234.99" width="162.0" height="20.76" fill="#cfb4b8"/>
<rect x="1430.0" y="1255.15" width="162.0" height="20.76" fill="#5a9490"/>
<rect x="1430.0" y="1275.31" width="162.0" height="20.76" fill="#73b0a2"/>
<rect x="1430.0" y="1295.47" width="162.0" height="20.76" fill="#c5596d"/>
<rect x="1430.0" y="1315.63" width="162.0" height="20.76" fill="#cfbdbf"/>
<rect x="1430.0" y="1335.79" width="162.0" height="20.76" fill="#d19aa0"/>
<rect x="1430.0" y="1355.95" width="162.0" height="20.76" fill="#89375d"/>
<rect x="1430.0" y="1396.27" width="162.0" height="20.76" fill="#66a29a"/>
<rect x="1430.0" y="1416.43" width="162.0" height="20.76" fill="#6eaa9f"/>
<rect x="1430.0" y="1436.59" width="162.0" height="20.76" fill="#c2d4ce"/>
<rect x="1430.0" y="1456.75" width="162.0" height="20.76" fill="#b3d0c5"/>
<rect x="1430.0" y="1476.91" width="162.0" height="20.76" fill="#d19aa0"/>
<rect x="1430.0" y="1497.07" width="162.0" height="20.76" fill="#b3d0c5"/>
<rect x="1430.0" y="1517.23" width="162.0" height="20.76" fill="#6ca89e"/>
<rect x="1430.0" y="1537.39" width="162.0" height="20.76" fill="#d3d3d3"/>
<rect x="1430.0" y="1557.55" width="162.0" height="20.76" fill="#d2888e"/>
<rect x="1430.0" y="1577.70" width="162.0" height="20.76" fill="#d19399"/>
<rect x="1430.0" y="1597.86" width="162.0" height="20.76" fill="#d19399"/>
<rect x="1430.0" y="1618.02" width="162.0" height="20.76" fill="#a9cfc1"/>
<rect x="1430.0" y="1638.18" width="162.0" height="20.76" fill="#8ecab1"/>
<rect x="1430.0" y="1658.34" width="162.0" height="20.76" fill="#70ada0"/>
<rect x="1430.0" y="1678.50" width="162.0" height="20.76" fill="#7fbda9"/>
<rect x="1430.0" y="1698.66" width="162.0" height="20.76" fill="#8ccab0"/>
<rect x="1430.0" y="1718.82" width="162.0" height="20.76" fill="#7fbda9"/>
<rect x="1430.0" y="1738.98" width="162.0" height="20.76" fill="#629d96"/>
<rect x="1430.0" y="1759.14" width="162.0" height="20.76" fill="#a9cfc1"/>
<rect x="1430.0" y="1779.30" width="162.0" height="20.76" fill="#73b0a2"/>
<rect x="1430.0" y="1799.46" width="162.0" height="20.76" fill="#d28288"/>
<rect x="1430.0" y="1819.62" width="162.0" height="20.76" fill="#c2d4ce"/>
<rect x="1430.0" y="1839.78" width="162.0" height="20.76" fill="#629d96"/>
<rect x="1430.0" y="1859.94" width="162.0" height="20.76" fill="#9ecdbb"/>
<rect x="1430.0" y="1880.10" width="162.0" height="20.76" fill="#70ada0"/>
<rect x="1430.0" y="1900.26" width="162.0" height="20.76" fill="#85c3ac"/>
<rect x="1430.0" y="1940.58" width="162.0" height="20.76" fill="#9ecdbb"/>
<rect x="1430.0" y="1960.74" width="162.0" height="20.76" fill="#5c9692"/>
<rect x="1430.0" y="1980.90" width="162.0" height="20.76" fill="#d66a74"/>
<rect x="1430.0" y="2001.06" width="162.0" height="20.76" fill="#6b2550"/>
<rect x="1430.0" y="2021.22" width="162.0" height="20.76" fill="#6eaa9f"/>
<rect x="1430.0" y="2041.38" width="162.0" height="20.76" fill="#d0c2c4"/>
<rect x="1430.0" y="2061.54" width="162.0" height="20.76" fill="#70ada0"/>
</g>
<rect x="1029" y="27" width="103" height="2055" fill="url(#ga)"/>
<rect x="1623" y="27" width="103" height="2055" fill="url(#gb)"/>
<line x1="401.5" y1="36.5" x2="418" y2="36.5" stroke="#000" stroke-width="3.4"/>
<line x1="401.5" y1="520.3" x2="418" y2="520.3" stroke="#000" stroke-width="3.4"/>
<line x1="401.5" y1="1024.0" x2="418" y2="1024.0" stroke="#000" stroke-width="3.4"/>
<line x1="401.5" y1="1529.0" x2="418" y2="1529.0" stroke="#000" stroke-width="3.4"/>
<line x1="401.5" y1="2072.6" x2="418" y2="2072.6" stroke="#000" stroke-width="3.4"/>
<line x1="1413.5" y1="36.3" x2="1430" y2="36.3" stroke="#000" stroke-width="3.4"/>
<line x1="1413.5" y1="520.1" x2="1430" y2="520.1" stroke="#000" stroke-width="3.4"/>
<line x1="1413.5" y1="1024.0" x2="1430" y2="1024.0" stroke="#000" stroke-width="3.4"/>
<line x1="1413.5" y1="1529.0" x2="1430" y2="1529.0" stroke="#000" stroke-width="3.4"/>
<line x1="1413.5" y1="2072.5" x2="1430" y2="2072.5" stroke="#000" stroke-width="3.4"/>
<line x1="490.6" y1="2082" x2="490.6" y2="2098" stroke="#000" stroke-width="3.4"/>
<line x1="636.0" y1="2082" x2="636.0" y2="2098" stroke="#000" stroke-width="3.4"/>
<line x1="781.6" y1="2082" x2="781.6" y2="2098" stroke="#000" stroke-width="3.4"/>
<line x1="927.1" y1="2082" x2="927.1" y2="2098" stroke="#000" stroke-width="3.4"/>
<line x1="1132" y1="28.2" x2="1148" y2="28.2" stroke="#000" stroke-width="3.4"/>
<line x1="1132" y1="711.7" x2="1148" y2="711.7" stroke="#000" stroke-width="3.4"/>
<line x1="1132" y1="1396.0" x2="1148" y2="1396.0" stroke="#000" stroke-width="3.4"/>
<line x1="1132" y1="2080.6" x2="1148" y2="2080.6" stroke="#000" stroke-width="3.4"/>
<line x1="1726" y1="28.2" x2="1742.4" y2="28.2" stroke="#000" stroke-width="3.4"/>
<line x1="1726" y1="540.3" x2="1742.4" y2="540.3" stroke="#000" stroke-width="3.4"/>
<line x1="1726" y1="1054.1" x2="1742.4" y2="1054.1" stroke="#000" stroke-width="3.4"/>
<line x1="1726" y1="1568.7" x2="1742.4" y2="1568.7" stroke="#000" stroke-width="3.4"/>
<line x1="1726" y1="2080.6" x2="1742.4" y2="2080.6" stroke="#000" stroke-width="3.4"/>
<g fill="none" stroke="#000" stroke-width="7.6" stroke-linejoin="round">
<rect x="1419.8" y="15.1" width="182.4" height="302"/>
<rect x="1419.8" y="1386.2" width="182.4" height="705.8"/>
</g>
<line x1="100.55" y1="224" x2="100.55" y2="1921" stroke="#808080" stroke-width="3.5"/>
<polygon points="100.55,196.2 83.5,226.2 117.6,226.2" fill="#808080"/>
<polygon points="100.55,1948.7 83.5,1918.7 117.6,1918.7" fill="#808080"/>
<text x="160.50" y="57.00" font-size="74" font-weight="bold" textLength="38.29" lengthAdjust="spacingAndGlyphs">a</text>
<text x="1306.00" y="57.00" font-size="74" font-weight="bold" textLength="47.41" lengthAdjust="spacingAndGlyphs">b</text>
<text x="357.00" y="54.00" font-size="51" textLength="26.08" lengthAdjust="spacingAndGlyphs">1</text>
<text x="326.50" y="539.00" font-size="51" textLength="57.22" lengthAdjust="spacingAndGlyphs">25</text>
<text x="327.00" y="1042.50" font-size="51" textLength="57.61" lengthAdjust="spacingAndGlyphs">50</text>
<text x="327.00" y="1546.00" font-size="51" textLength="56.75" lengthAdjust="spacingAndGlyphs">75</text>
<text x="297.00" y="2090.50" font-size="51" textLength="86.39" lengthAdjust="spacingAndGlyphs">102</text>
<text x="160.50" y="118.50" font-size="51" textLength="130.74" lengthAdjust="spacingAndGlyphs">88.53</text>
<text x="162.00" y="601.00" font-size="51" textLength="129.30" lengthAdjust="spacingAndGlyphs">17.92</text>
<text x="189.00" y="1105.00" font-size="51" textLength="101.15" lengthAdjust="spacingAndGlyphs">8.44</text>
<text x="191.00" y="1608.50" font-size="51" textLength="101.14" lengthAdjust="spacingAndGlyphs">4.17</text>
<text x="189.50" y="2153.50" font-size="51" textLength="101.41" lengthAdjust="spacingAndGlyphs">1.06</text>
<text x="298.50" y="118.50" font-size="51" textLength="69.55" lengthAdjust="spacingAndGlyphs">km</text>
<text x="298.50" y="601.00" font-size="51" textLength="69.55" lengthAdjust="spacingAndGlyphs">km</text>
<text x="298.50" y="1105.00" font-size="51" textLength="69.55" lengthAdjust="spacingAndGlyphs">km</text>
<text x="298.50" y="1608.50" font-size="51" textLength="69.55" lengthAdjust="spacingAndGlyphs">km</text>
<text x="298.50" y="2153.50" font-size="51" textLength="69.55" lengthAdjust="spacingAndGlyphs">km</text>
<text x="368.00" y="87.00" font-size="25" textLength="12.55" lengthAdjust="spacingAndGlyphs">2</text>
<text x="368.00" y="568.00" font-size="25" textLength="12.29" lengthAdjust="spacingAndGlyphs">2</text>
<text x="367.00" y="1071.00" font-size="25" textLength="14.71" lengthAdjust="spacingAndGlyphs">2</text>
<text x="368.00" y="1576.50" font-size="25" textLength="12.29" lengthAdjust="spacingAndGlyphs">2</text>
<text x="368.00" y="2120.50" font-size="25" textLength="12.55" lengthAdjust="spacingAndGlyphs">2</text>
<text x="446.00" y="2150.00" font-size="51" textLength="88.25" lengthAdjust="spacingAndGlyphs">500</text>
<text x="577.00" y="2150.50" font-size="51" textLength="117.84" lengthAdjust="spacingAndGlyphs">2000</text>
<text x="723.00" y="2150.50" font-size="51" textLength="116.60" lengthAdjust="spacingAndGlyphs">3500</text>
<text x="868.00" y="2150.50" font-size="51" textLength="118.26" lengthAdjust="spacingAndGlyphs">5000</text>
<text x="406.50" y="2220.00" font-size="51" textLength="620.21" lengthAdjust="spacingAndGlyphs">Distance from terminus (m)</text>
<text x="1165.00" y="48.00" font-size="51" textLength="115.50" lengthAdjust="spacingAndGlyphs">300+</text>
<text x="1164.50" y="730.00" font-size="51" textLength="87.65" lengthAdjust="spacingAndGlyphs">200</text>
<text x="1165.00" y="1416.00" font-size="51" textLength="86.39" lengthAdjust="spacingAndGlyphs">100</text>
<text x="1165.50" y="2098.50" font-size="51" textLength="27.03" lengthAdjust="spacingAndGlyphs">0</text>
<text x="1368.50" y="54.00" font-size="51" textLength="27.12" lengthAdjust="spacingAndGlyphs">1</text>
<text x="1339.00" y="538.00" font-size="51" textLength="57.18" lengthAdjust="spacingAndGlyphs">25</text>
<text x="1339.00" y="1042.50" font-size="51" textLength="58.05" lengthAdjust="spacingAndGlyphs">50</text>
<text x="1339.00" y="1546.00" font-size="51" textLength="56.98" lengthAdjust="spacingAndGlyphs">75</text>
<text x="1310.00" y="2090.00" font-size="51" textLength="86.39" lengthAdjust="spacingAndGlyphs">102</text>
<text x="1757.00" y="48.00" font-size="51" textLength="114.68" lengthAdjust="spacingAndGlyphs">160%</text>
<text x="1761.00" y="558.50" font-size="51" textLength="89.17" lengthAdjust="spacingAndGlyphs">80%</text>
<text x="1762.00" y="1069.00" font-size="51" textLength="62.35" lengthAdjust="spacingAndGlyphs">0%</text>
<text x="1761.50" y="1582.50" font-size="51" textLength="104.16" lengthAdjust="spacingAndGlyphs">-80%</text>
<text x="1761.00" y="2089.50" font-size="51" textLength="130.31" lengthAdjust="spacingAndGlyphs">-160%</text>
<text transform="translate(42.50 1238.00) rotate(-90)" font-size="51" textLength="325.39" lengthAdjust="spacingAndGlyphs">Lake area rank</text>
<text transform="translate(115.50 180.00) rotate(-90)" font-size="51" fill="#838383" textLength="160.48" lengthAdjust="spacingAndGlyphs">Largest</text>
<text transform="translate(116.00 2158.00) rotate(-90)" font-size="51" fill="#838383" textLength="190.09" lengthAdjust="spacingAndGlyphs">Smallest</text>
<text transform="translate(1223.50 1247.00) rotate(-90)" font-size="51" textLength="309.48" lengthAdjust="spacingAndGlyphs">Velocity (m yr</text>
<text transform="translate(1223.00 910.00) rotate(-90)" font-size="51" textLength="12.17" lengthAdjust="spacingAndGlyphs">)</text>
<text transform="translate(1186.00 899.00) rotate(-90)" font-size="25" textLength="22.23" lengthAdjust="spacingAndGlyphs">-1</text>
<text transform="translate(1936.00 1807.50) rotate(-90)" font-size="51" textLength="1466.30" lengthAdjust="spacingAndGlyphs">Percentage change in velocity between 2000 m and 500 m up-ice</text>
</svg></body></html>
